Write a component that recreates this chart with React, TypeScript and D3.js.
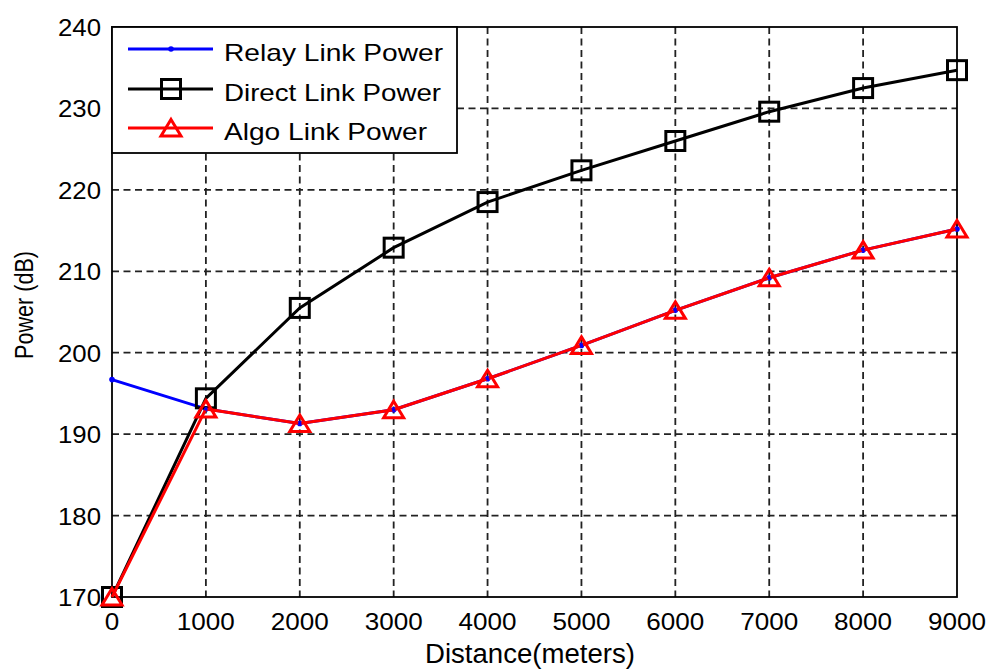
import React from "react";
import * as d3 from "d3";

// Distance (meters) along the link
const distances = [0, 1000, 2000, 3000, 4000, 5000, 6000, 7000, 8000, 9000];
// Power (dB) per series
const relayPower = [196.7, 193.1, 191.3, 193.0, 196.8, 200.9, 205.2, 209.2, 212.6, 215.2];
const directPower = [170.0, 194.4, 205.5, 212.9, 218.5, 222.4, 226.0, 229.6, 232.5, 234.7];
const algoPower = [170.0, 193.1, 191.3, 193.0, 196.8, 200.9, 205.2, 209.2, 212.6, 215.2];

const xTicks = [0, 1000, 2000, 3000, 4000, 5000, 6000, 7000, 8000, 9000];
const yTicks = [170, 180, 190, 200, 210, 220, 230, 240];

const seriesNames = ["Relay Link Power", "Direct Link Power", "Algo Link Power"];
const legendWidths = [219, 217, 203];

const W = 987;
const H = 670;
const left = 112;
const right = 957;
const top = 27;
const bottom = 597;
const FONT = "'Liberation Sans', Arial, sans-serif";
const LW = 3;

const x = d3.scaleLinear().domain([0, 9000]).range([left, right]);
const y = d3.scaleLinear().domain([170, 240]).range([bottom, top]);

const line = d3
  .line<number>()
  .x((_, i) => x(distances[i]))
  .y((v) => y(v));

function Square({ cx, cy }: { cx: number; cy: number }) {
  return (
    <rect x={cx - 9.5} y={cy - 9.5} width={19} height={19} fill="none" stroke="#000" strokeWidth={LW} />
  );
}

function Triangle({ cx, cy }: { cx: number; cy: number }) {
  const p = `M${cx},${cy - 8.5} L${cx + 10},${cy + 8} L${cx - 10},${cy + 8} Z`;
  return <path d={p} fill="none" stroke="#ff0000" strokeWidth={LW} strokeLinejoin="miter" />;
}

export default function App() {
  const legendRows = [49, 89, 128];
  return (
    <svg
      width={W}
      height={H}
      style={{ position: "absolute", left: 0, top: 0, background: "#fff" }}
      fontFamily={FONT}
    >
      <rect x={0} y={0} width={W} height={H} fill="#fff" />

      {/* grid */}
      <g stroke="#222" strokeWidth={1.8} strokeDasharray="7 4.5">
        {xTicks.slice(1, -1).map((t) => (
          <line key={`gx${t}`} x1={x(t)} x2={x(t)} y1={top} y2={bottom} />
        ))}
        {yTicks.slice(1, -1).map((t) => (
          <line key={`gy${t}`} x1={left} x2={right} y1={y(t)} y2={y(t)} />
        ))}
      </g>

      {/* frame */}
      <rect x={left} y={top} width={right - left} height={bottom - top} fill="none" stroke="#000" strokeWidth={1.8} />

      {/* tick labels */}
      <g fontSize={24} fill="#000">
        {xTicks.map((t) => (
          <text
            key={`tx${t}`}
            x={x(t)}
            y={630}
            textAnchor="middle"
            textLength={String(t).length * 14.5}
            lengthAdjust="spacingAndGlyphs"
          >
            {t}
          </text>
        ))}
        {yTicks.map((t) => (
          <text
            key={`ty${t}`}
            x={101}
            y={y(t) + 9}
            textAnchor="end"
            textLength={43}
            lengthAdjust="spacingAndGlyphs"
          >
            {t}
          </text>
        ))}
      </g>

      {/* axis titles */}
      <text
        x={530}
        y={663}
        textAnchor="middle"
        fontSize={27}
        textLength={210}
        lengthAdjust="spacingAndGlyphs"
      >
        Distance(meters)
      </text>
      <text
        transform={`translate(33,305) rotate(-90)`}
        textAnchor="middle"
        fontSize={25}
        textLength={108}
        lengthAdjust="spacingAndGlyphs"
      >
        Power (dB)
      </text>

      {/* series */}
      <path d={line(relayPower) ?? ""} fill="none" stroke="#0000ff" strokeWidth={LW} />
      {relayPower.map((v, i) => (
        <circle key={`r${i}`} cx={x(distances[i])} cy={y(v)} r={2.8} fill="#0000ff" />
      ))}
      <path d={line(directPower) ?? ""} fill="none" stroke="#000" strokeWidth={LW} />
      {directPower.map((v, i) => (
        <Square key={`d${i}`} cx={x(distances[i])} cy={y(v)} />
      ))}
      <path d={line(algoPower) ?? ""} fill="none" stroke="#ff0000" strokeWidth={LW} />
      {algoPower.map((v, i) => (
        <Triangle key={`a${i}`} cx={x(distances[i])} cy={y(v)} />
      ))}
      {relayPower.slice(1).map((v, i) => (
        <circle key={`rd${i}`} cx={x(distances[i + 1])} cy={y(v)} r={1.8} fill="#0000ff" />
      ))}

      {/* legend */}
      <rect x={left} y={top} width={457 - left} height={153 - top} fill="#fff" stroke="#000" strokeWidth={1.8} />
      <line x1={128} x2={213} y1={legendRows[0]} y2={legendRows[0]} stroke="#0000ff" strokeWidth={LW} />
      <circle cx={171} cy={legendRows[0]} r={2.8} fill="#0000ff" />
      <line x1={128} x2={213} y1={legendRows[1]} y2={legendRows[1]} stroke="#000" strokeWidth={LW} />
      <Square cx={171} cy={legendRows[1]} />
      <line x1={128} x2={213} y1={legendRows[2]} y2={legendRows[2]} stroke="#ff0000" strokeWidth={LW} />
      <Triangle cx={171} cy={legendRows[2]} />
      {seriesNames.map((s, i) => (
        <text
          key={s}
          x={224}
          y={legendRows[i] + 11.5}
          fontSize={24}
          textLength={legendWidths[i]}
          lengthAdjust="spacingAndGlyphs"
        >
          {s}
        </text>
      ))}
    </svg>
  );
}
